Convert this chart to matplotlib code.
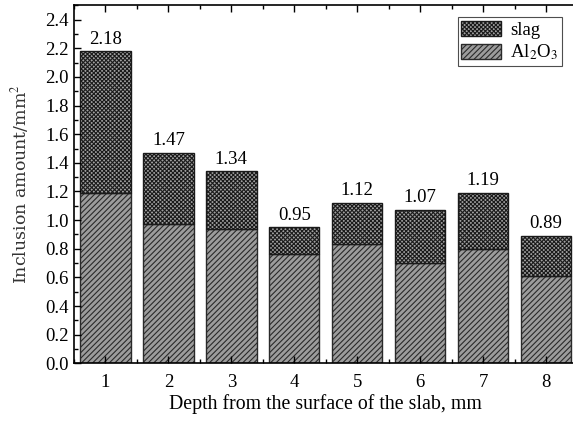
import matplotlib
matplotlib.use("Agg")
import matplotlib.pyplot as plt
from matplotlib.ticker import MultipleLocator
import numpy as np

plt.rcParams['font.family'] = ['Liberation Serif', 'DejaVu Serif']
plt.rcParams['mathtext.fontset'] = 'stix'
plt.rcParams['hatch.linewidth'] = 0.8

depths = [1, 2, 3, 4, 5, 6, 7, 8]
al2o3 = [1.19, 0.97, 0.94, 0.76, 0.83, 0.70, 0.80, 0.61]
totals = [2.18, 1.47, 1.34, 0.95, 1.12, 1.07, 1.19, 0.89]
slag = [t - a for t, a in zip(totals, al2o3)]

fig = plt.figure(figsize=(5.73, 4.22), dpi=100)
ax = fig.add_axes([74/573, (422-363.3)/422, (577.5-74)/573, (363.3-5.3)/422])

b1 = ax.bar(depths, al2o3, width=0.8, color='#9c9c9c', edgecolor='#2a2a2a',
            hatch='//////', linewidth=1.0, label='Al$_2$O$_3$')
b2 = ax.bar(depths, slag, width=0.8, bottom=al2o3, color='#a0a0a0', edgecolor='#1a1a1a',
            hatch='xxxxxxxx', linewidth=1.0, label='slag')

for x, t in zip(depths, totals):
    ax.text(x, t + 0.025, f"{t:.2f}", ha='center', va='bottom', fontsize=13.5)

ax.set_xlim(0.5, 8.5)
ax.set_ylim(0, 2.5)
ax.set_xticks(depths)
ax.yaxis.set_minor_locator(MultipleLocator(0.1))
ax.xaxis.set_minor_locator(MultipleLocator(0.5))
yt = np.arange(0, 2.41, 0.2)
ax.set_yticks(yt)
ax.set_yticklabels([f"{v:.1f}" for v in yt])
ax.tick_params(axis='both', which='both', direction='in', top=True, right=False, labelsize=13.5)
ax.tick_params(which='major', length=5, width=1)
ax.tick_params(which='minor', length=3, width=1)
ax.tick_params(axis='x', pad=8)
ax.tick_params(axis='y', pad=4)
for s in ax.spines.values():
    s.set_linewidth(1.2)

ax.set_xlabel('Depth from the surface of the slab, mm', fontsize=14.3, labelpad=2)
ax.set_ylabel('Inclusion amount/mm$^2$', fontsize=12.5, labelpad=10,
              family=['DejaVu Serif'], color='#333333')

leg = ax.legend(handles=[b2, b1], loc='upper right', bbox_to_anchor=((562-74)/503.5, (363.3-17)/358),
                fontsize=13.5, frameon=True, fancybox=False, edgecolor='#222222',
                handlelength=2.1, handleheight=0.9, borderpad=0.2, labelspacing=0.2,
                handletextpad=0.5, borderaxespad=0)
leg.get_frame().set_linewidth(0.8)

fig.savefig('out.png', dpi=100)
